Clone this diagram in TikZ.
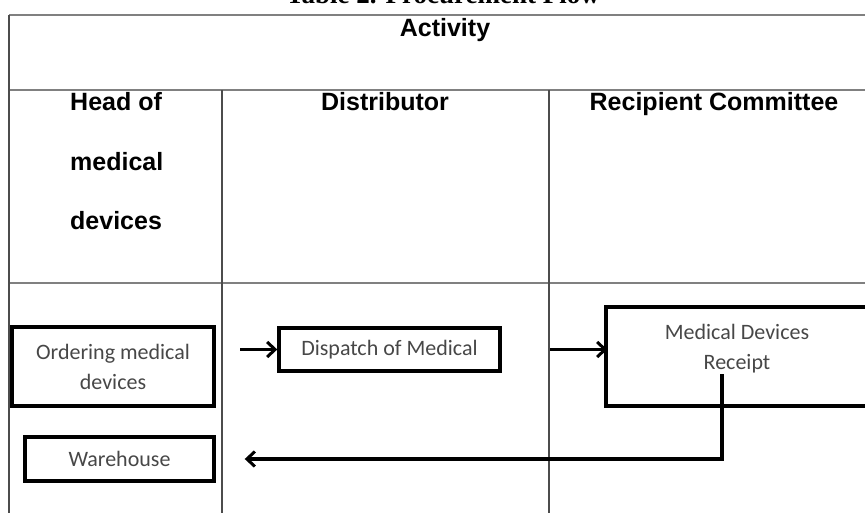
\documentclass[tikz,border=0pt]{standalone}
\usepackage{fontspec}
\setmainfont{Liberation Serif}
\setsansfont{Liberation Sans}
\newfontfamily\boxfont{Carlito}
\usetikzlibrary{arrows.meta}

\tikzset{
  rule/.style={draw=black!50, line width=2pt},
  colrule/.style={draw=black!70, line width=1.2pt},
  colhead/.style={font=\sffamily\bfseries\fontsize{25}{30}\selectfont, inner sep=0pt, anchor=base},
  flowbox/.style={draw, line width=3.4pt, inner sep=0pt},
  boxtext/.style={align=center, text=black!72, font=\boxfont\fontsize{22}{30}\selectfont, inner sep=0pt},
  flow/.style={line width=3.2pt, -{Straight Barb[length=8pt,width=15pt,line width=3pt]}}
}

\begin{document}
\begin{tikzpicture}[x=1pt,y=-1pt]
\useasboundingbox (0,0) rectangle (865,513);

% table caption, cut off at the top
\node[anchor=base, font=\bfseries\fontsize{27}{30}\selectfont, inner sep=0pt] (caption) at (443,4) {Table 2. Procurement Flow};

% table rules
\draw[rule] (9,15) -- (880,15);
\draw[rule] (9,90) -- (880,90);
\draw[rule] (9,283) -- (880,283);
\draw[colrule] (9,513) -- (9,15);
\draw[colrule] (222,90) -- (222,513);
\draw[colrule] (549,90) -- (549,513);

\node[colhead] (activity) at (445,37) {Activity};
\node[colhead, anchor=base west] (head1) at (70,111) {Head of};
\node[colhead, anchor=base west] (head2) at (70,171) {medical};
\node[colhead, anchor=base west] (head3) at (70,230) {devices};
\node[colhead] (distributor) at (385,111) {Distributor};
\node[colhead] (committee) at (714,111) {Recipient Committee};

% flow boxes
\node[flowbox, boxtext, minimum width=202, minimum height=79] (order) at (113,366.5) {Ordering medical\\devices};
\node[flowbox, boxtext, minimum width=189, minimum height=44] (ware) at (119.5,459) {Warehouse};
\node[flowbox, boxtext, minimum width=221, minimum height=43] (disp) at (389.5,349.5) {Dispatch of Medical};
\node[flowbox, minimum width=262, minimum height=99] (rcpt) at (737,356.5) {};
\node[boxtext, anchor=north] (rcpttext) at ([yshift=-19]rcpt.north) {Medical Devices\\Receipt};
\coordinate (rcptout) at (722,374);

% arrows
\draw[flow] ([xshift=-37]disp.west) -- (disp.west);
\draw[flow] ([xshift=-54]rcpt.west |- disp.west) -- ([xshift=3]rcpt.west |- disp.west);
\draw[flow] (rcptout) |- ([xshift=29]ware.east);

\end{tikzpicture}
\end{document}
